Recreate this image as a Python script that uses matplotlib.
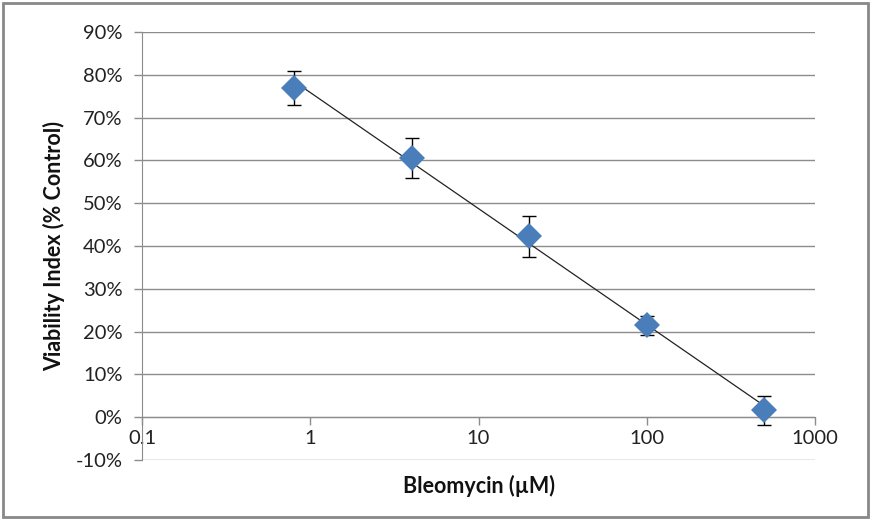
import numpy as np
import matplotlib.pyplot as plt
from matplotlib.ticker import FuncFormatter, FixedLocator, NullLocator
from matplotlib.patches import Rectangle

plt.rcParams['font.family'] = ['Lato', 'DejaVu Sans']

conc = [0.8, 4, 20, 100, 500]
viability = [76.9, 60.5, 42.3, 21.5, 1.6]
err = [4.0, 4.7, 4.8, 2.2, 3.4]
x_ticks = [0.1, 1, 10, 100, 1000]
x_labels = ['0.1', '1', '10', '100', '1000']

fig = plt.figure(figsize=(8.73, 5.2), dpi=100)
ax = fig.add_axes([0.1627, 0.1154, 0.7709, 0.8231])

# log trendline like Excel
b, a = np.polyfit(np.log10(conc), viability, 1)
xt = np.array([min(conc), max(conc)])
ax.plot(xt, a + b * np.log10(xt), color='#222222', lw=0.9, zorder=3)

ax.errorbar(conc, viability, yerr=err, fmt='none', ecolor='black',
            elinewidth=1, capsize=5, capthick=1, zorder=4)
ax.plot(conc, viability, 'D', color='#4a7ebb', markersize=13,
        markeredgewidth=0, zorder=5)

ax.set_xscale('log')
ax.set_xlim(0.1, 1000)
ax.set_ylim(-10, 90)
ax.set_yticks(np.arange(-10, 91, 10))
ax.yaxis.set_major_formatter(FuncFormatter(lambda v, p: f'{v:.0f}%'))
ax.grid(axis='y', color='#8c8c8c', lw=1)
ax.set_axisbelow(True)

ax.xaxis.set_major_locator(FixedLocator(x_ticks))
ax.xaxis.set_minor_locator(NullLocator())
ax.set_xticklabels(x_labels)

for s in ['top', 'right']:
    ax.spines[s].set_visible(False)
ax.spines['bottom'].set_position(('data', 0))
ax.spines['bottom'].set_color('#8c8c8c')
ax.spines['left'].set_color('#8c8c8c')
ax.tick_params(axis='both', colors='#8c8c8c', labelcolor='#222222',
               labelsize=14.5, length=6, width=1)
ax.tick_params(axis='y', pad=8)
ax.tick_params(axis='x', pad=3)

ax.set_xlabel('Bleomycin (µM)', fontsize=15.5, fontweight='bold',
              color='#111111')
ax.xaxis.set_label_coords(0.5, -0.035)
ax.set_ylabel('Viability Index (% Control)', fontsize=15.5,
              fontweight='bold', color='#111111')
ax.yaxis.set_label_coords(-0.115, 0.5)

fig.patches.append(Rectangle((0.004, 0.006), 0.99, 0.988,
                             transform=fig.transFigure, fill=False,
                             edgecolor='#888888', lw=2))

fig.savefig('out.png', dpi=100)
